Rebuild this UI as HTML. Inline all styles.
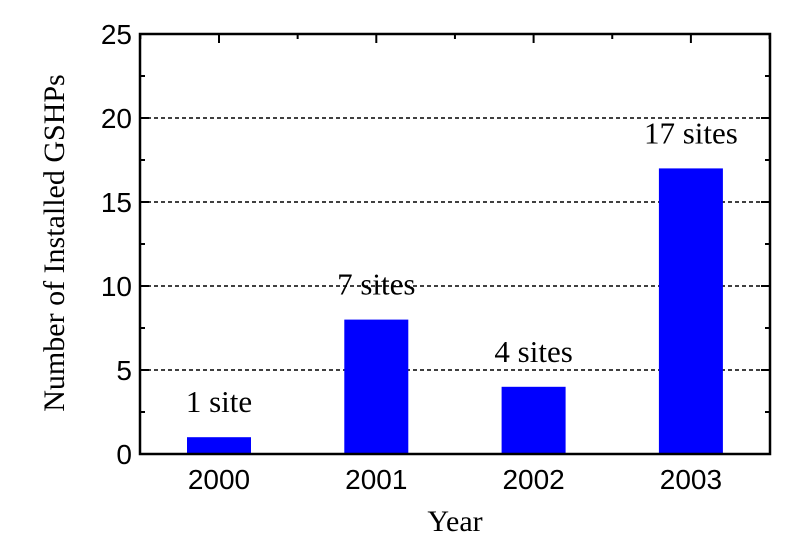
<!DOCTYPE html>
<html><head><meta charset="utf-8">
<style>
html,body{margin:0;padding:0;background:#fff;}
svg{display:block;}
</style></head>
<body>
<svg id="chart" width="806" height="538" xmlns="http://www.w3.org/2000/svg"></svg>
<script>
const categories = ["2000","2001","2002","2003"];
const values = [1, 8, 4, 17];
const labels = ["1 site","7 sites","4 sites","17 sites"];
const yTicks = [0,5,10,15,20,25];

const NS="http://www.w3.org/2000/svg";
const svg=document.getElementById('chart');
const L=140,R=770,T=34,B=454,yMax=25;
const y=v=>B-(v/yMax)*(B-T);
const x0=219,step=157.3;
const x=i=>x0+i*step;
const bw=64;
function mk(tag,attrs,parent){const e=document.createElementNS(NS,tag);for(const k in attrs)e.setAttribute(k,attrs[k]);(parent||svg).appendChild(e);return e;}

yTicks.forEach(t=>{
  if(t>0&&t<yMax){
    const g=mk('line',{x1:L,x2:R,y1:y(t),y2:y(t),stroke:'#000','stroke-width':1.6,'stroke-dasharray':'4,3'});
    
    
  }
});
values.forEach((v,i)=>{
  const r=mk('rect',{x:x(i)-bw/2,y:y(v),width:bw,height:B-y(v),fill:'#0000ff'});
  
  
  const t=mk('text',{x:x(i),y:y(v)-25,'text-anchor':'middle','font-family':'Liberation Serif, serif','font-size':31,fill:'#000'});
  t.textContent=labels[i];
  
  
  const c=mk('text',{x:x(i),y:B+35,'text-anchor':'middle','font-family':'Liberation Sans, sans-serif','font-size':28,fill:'#000'});
  c.textContent=categories[i];
  
  
  mk('line',{x1:x(i),x2:x(i),y1:T,y2:T+9,stroke:'#000','stroke-width':2});
  mk('line',{x1:x(i)-step/2,x2:x(i)-step/2,y1:T,y2:T+5,stroke:'#000','stroke-width':2});
});
mk('line',{x1:x(3)+step/2,x2:x(3)+step/2,y1:T,y2:T+5,stroke:'#000','stroke-width':2});
yTicks.forEach(t=>{
  mk('line',{x1:L,x2:L+9,y1:y(t),y2:y(t),stroke:'#000','stroke-width':2});
  mk('line',{x1:R-9,x2:R,y1:y(t),y2:y(t),stroke:'#000','stroke-width':2});
  if(t<yMax){
    mk('line',{x1:L,x2:L+5,y1:y(t+2.5),y2:y(t+2.5),stroke:'#000','stroke-width':2});
    mk('line',{x1:R-5,x2:R,y1:y(t+2.5),y2:y(t+2.5),stroke:'#000','stroke-width':2});
  }
  const lb=mk('text',{x:L-8,y:y(t)+10,'text-anchor':'end','font-family':'Liberation Sans, sans-serif','font-size':28,fill:'#000'});
  lb.textContent=t;
  
  
});
const f=mk('rect',{x:L,y:T,width:R-L,height:B-T,fill:'none',stroke:'#000','stroke-width':2.5});


const yt=mk('text',{x:0,y:0,transform:'translate(64,243) rotate(-90)','text-anchor':'middle','font-family':'Liberation Serif, serif','font-size':30,fill:'#000'});
yt.textContent='Number of Installed GSHPs';


const xt=mk('text',{x:455,y:531,'text-anchor':'middle','font-family':'Liberation Serif, serif','font-size':30,fill:'#000'});
xt.textContent='Year';


</script>
</body></html>
